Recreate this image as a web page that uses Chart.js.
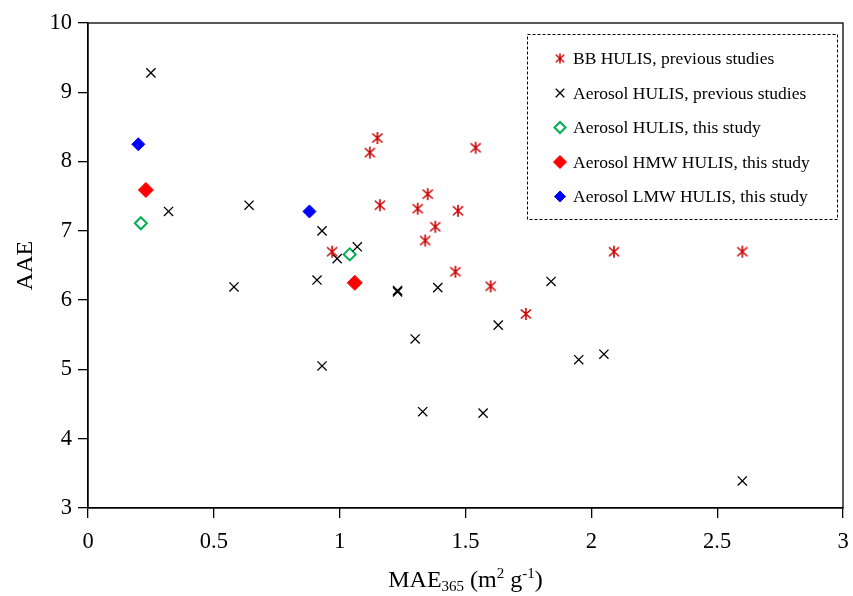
<!DOCTYPE html>
<html>
<head>
<meta charset="utf-8">
<script src="https://cdn.jsdelivr.net/npm/chart.js@4/dist/chart.umd.min.js"></script>
<style>
  html, body { margin: 0; padding: 0; background: #fff; }
  canvas { display: block; }
</style>
</head>
<body>
<canvas id="chart" width="853" height="596"></canvas>
<script>
// Data: MAE365 (x) vs AAE (y)
const bbX  = [0.97, 1.12, 1.15, 1.16, 1.54, 1.35, 1.31, 1.47, 1.38, 1.34, 1.46, 1.60, 1.74, 2.09, 2.60];
const bbY  = [6.70, 8.13, 8.34, 7.37, 8.20, 7.53, 7.32, 7.29, 7.06, 6.86, 6.41, 6.20, 5.80, 6.70, 6.70];

const aerX = [0.25, 0.32, 0.58, 0.64, 0.91, 0.93, 0.93, 0.99, 1.07, 1.23, 1.23, 1.30, 1.33, 1.39, 1.57, 1.63, 1.84, 1.95, 2.05, 2.60];
const aerY = [9.28, 7.28, 6.19, 7.37, 6.29, 7.00, 5.05, 6.60, 6.77, 6.12, 6.14, 5.44, 4.39, 6.18, 4.37, 5.64, 6.27, 5.14, 5.22, 3.39];

const thisX = [0.21, 1.04];
const thisY = [7.11, 6.66];
const hmwX  = [0.23, 1.06];
const hmwY  = [7.59, 6.25];
const lmwX  = [0.20, 0.88];
const lmwY  = [8.25, 7.28];

const seriesLabels = [
  'BB HULIS, previous studies',
  'Aerosol HULIS, previous studies',
  'Aerosol HULIS, this study',
  'Aerosol HMW HULIS, this study',
  'Aerosol LMW HULIS, this study'
];

const xTitleParts = [['MAE', 0], ['365', 1], [' (m', 0], ['2', -1], [' g', 0], ['-1', -1], [')', 0]];

const FONT = "'Liberation Serif', 'Times New Roman', serif";
Chart.defaults.font.family = FONT;
Chart.defaults.color = '#000';

const toPts = (xs, ys) => xs.map((x, i) => ({ x: x, y: ys[i] }));

// six-armed asterisk like the original marker
function asterisk(size, color, lw) {
  const c = document.createElement('canvas');
  c.width = c.height = size;
  const g = c.getContext('2d');
  const m = size / 2, d = size / 2 - 1;
  g.strokeStyle = color;
  g.lineWidth = lw;
  g.beginPath();
  g.moveTo(m - d * 0.85, m - d * 0.75); g.lineTo(m + d * 0.85, m + d * 0.75);
  g.moveTo(m + d * 0.85, m - d * 0.75); g.lineTo(m - d * 0.85, m + d * 0.75);
  g.moveTo(m, m - d); g.lineTo(m, m + d);
  g.stroke();
  return c;
}
const starBig = asterisk(14, '#cc0000', 1.6);
const starSmall = asterisk(12, '#cc0000', 1.5);

const frame = {
  id: 'frame',
  afterDraw(chart) {
    const a = chart.chartArea, ctx = chart.ctx;
    ctx.save();
    ctx.strokeStyle = '#000';
    ctx.lineWidth = 1.3;
    ctx.strokeRect(a.left, a.top, a.right - a.left, a.bottom - a.top);
    ctx.restore();
  }
};

const xTitle = {
  id: 'xTitle',
  afterDraw(chart) {
    const ctx = chart.ctx, a = chart.chartArea;
    const big = '24px ' + FONT, small = '15px ' + FONT;
    ctx.save();
    ctx.fillStyle = '#000';
    ctx.textBaseline = 'alphabetic';
    let total = 0;
    xTitleParts.forEach(([t, s]) => { ctx.font = s ? small : big; total += ctx.measureText(t).width; });
    let x = (a.left + a.right) / 2 - total / 2;
    const base = 587;
    xTitleParts.forEach(([t, s]) => {
      ctx.font = s ? small : big;
      ctx.fillText(t, x, base + (s === 1 ? 4 : s === -1 ? -9 : 0));
      x += ctx.measureText(t).width;
    });
    ctx.restore();
  }
};

const boxLegend = {
  id: 'boxLegend',
  afterDraw(chart) {
    const ctx = chart.ctx;
    ctx.save();
    ctx.strokeStyle = '#000';
    ctx.lineWidth = 1;
    ctx.setLineDash([3, 2]);
    ctx.strokeRect(527.5, 34.5, 310, 185);
    ctx.setLineDash([]);
    const markers = [
      { pointStyle: starSmall, radius: 5, stroke: '#cc0000', fill: '#cc0000', bw: 1 },
      { pointStyle: 'crossRot', radius: 6, stroke: '#000', fill: '#000', bw: 1.3 },
      { pointStyle: 'rectRot', radius: 5.5, stroke: '#00b050', fill: '#fff', bw: 2 },
      { pointStyle: 'rectRot', radius: 6.5, stroke: '#ff0000', fill: '#ff0000', bw: 1 },
      { pointStyle: 'rectRot', radius: 5.5, stroke: '#0000ff', fill: '#0000ff', bw: 1 }
    ];
    ctx.font = '17.5px ' + FONT;
    ctx.textBaseline = 'middle';
    seriesLabels.forEach((lab, i) => {
      const y = 58.5 + i * 34.5;
      const m = markers[i];
      ctx.strokeStyle = m.stroke;
      ctx.fillStyle = m.fill;
      ctx.lineWidth = m.bw;
      Chart.helpers.drawPoint(ctx, { pointStyle: m.pointStyle, radius: m.radius, rotation: 0, borderWidth: m.bw }, 560, y);
      ctx.fillStyle = '#000';
      ctx.fillText(lab, 573, y + 1);
    });
    ctx.restore();
  }
};

new Chart(document.getElementById('chart'), {
  type: 'scatter',
  data: {
    datasets: [
      { label: seriesLabels[0], data: toPts(bbX, bbY), pointStyle: starBig, radius: 7,
        borderColor: '#cc0000', backgroundColor: '#cc0000' },
      { label: seriesLabels[1], data: toPts(aerX, aerY), pointStyle: 'crossRot', radius: 6.5,
        borderColor: '#000', backgroundColor: '#000', borderWidth: 1.3 },
      { label: seriesLabels[2], data: toPts(thisX, thisY), pointStyle: 'rectRot', radius: 6,
        borderColor: '#00b050', backgroundColor: '#fff', borderWidth: 2 },
      { label: seriesLabels[3], data: toPts(hmwX, hmwY), pointStyle: 'rectRot', radius: 7.5,
        borderColor: '#ff0000', backgroundColor: '#ff0000', borderWidth: 1 },
      { label: seriesLabels[4], data: toPts(lmwX, lmwY), pointStyle: 'rectRot', radius: 6.5,
        borderColor: '#0000ff', backgroundColor: '#0000ff', borderWidth: 1 }
    ]
  },
  options: {
    responsive: false,
    animation: false,
    devicePixelRatio: 1,
    layout: { padding: { top: 23, right: 10, left: 0, bottom: 0 } },
    plugins: { legend: { display: false }, tooltip: { enabled: false } },
    scales: {
      x: {
        type: 'linear', min: 0, max: 3,
        ticks: { stepSize: 0.5, font: { size: 22.5 }, color: '#000', padding: 11,
                 callback: v => String(v) },
        grid: { drawOnChartArea: false, drawTicks: true, tickLength: 10, color: '#000', lineWidth: 1.3 },
        border: { color: '#000', width: 1.3 },
        afterFit: s => { s.height = 88; s.paddingRight = 0; s.paddingLeft = 0; }
      },
      y: {
        type: 'linear', min: 3, max: 10,
        ticks: { stepSize: 1, font: { size: 22.5 }, color: '#000', padding: 6 },
        grid: { drawOnChartArea: false, drawTicks: true, tickLength: 10, color: '#000', lineWidth: 1.3 },
        border: { color: '#000', width: 1.3 },
        title: { display: true, text: 'AAE', font: { size: 24 }, color: '#000', padding: { top: 11, bottom: 0 } },
        afterFit: s => { s.width = 88; }
      }
    }
  },
  plugins: [frame, xTitle, boxLegend]
});
</script>
</body>
</html>
